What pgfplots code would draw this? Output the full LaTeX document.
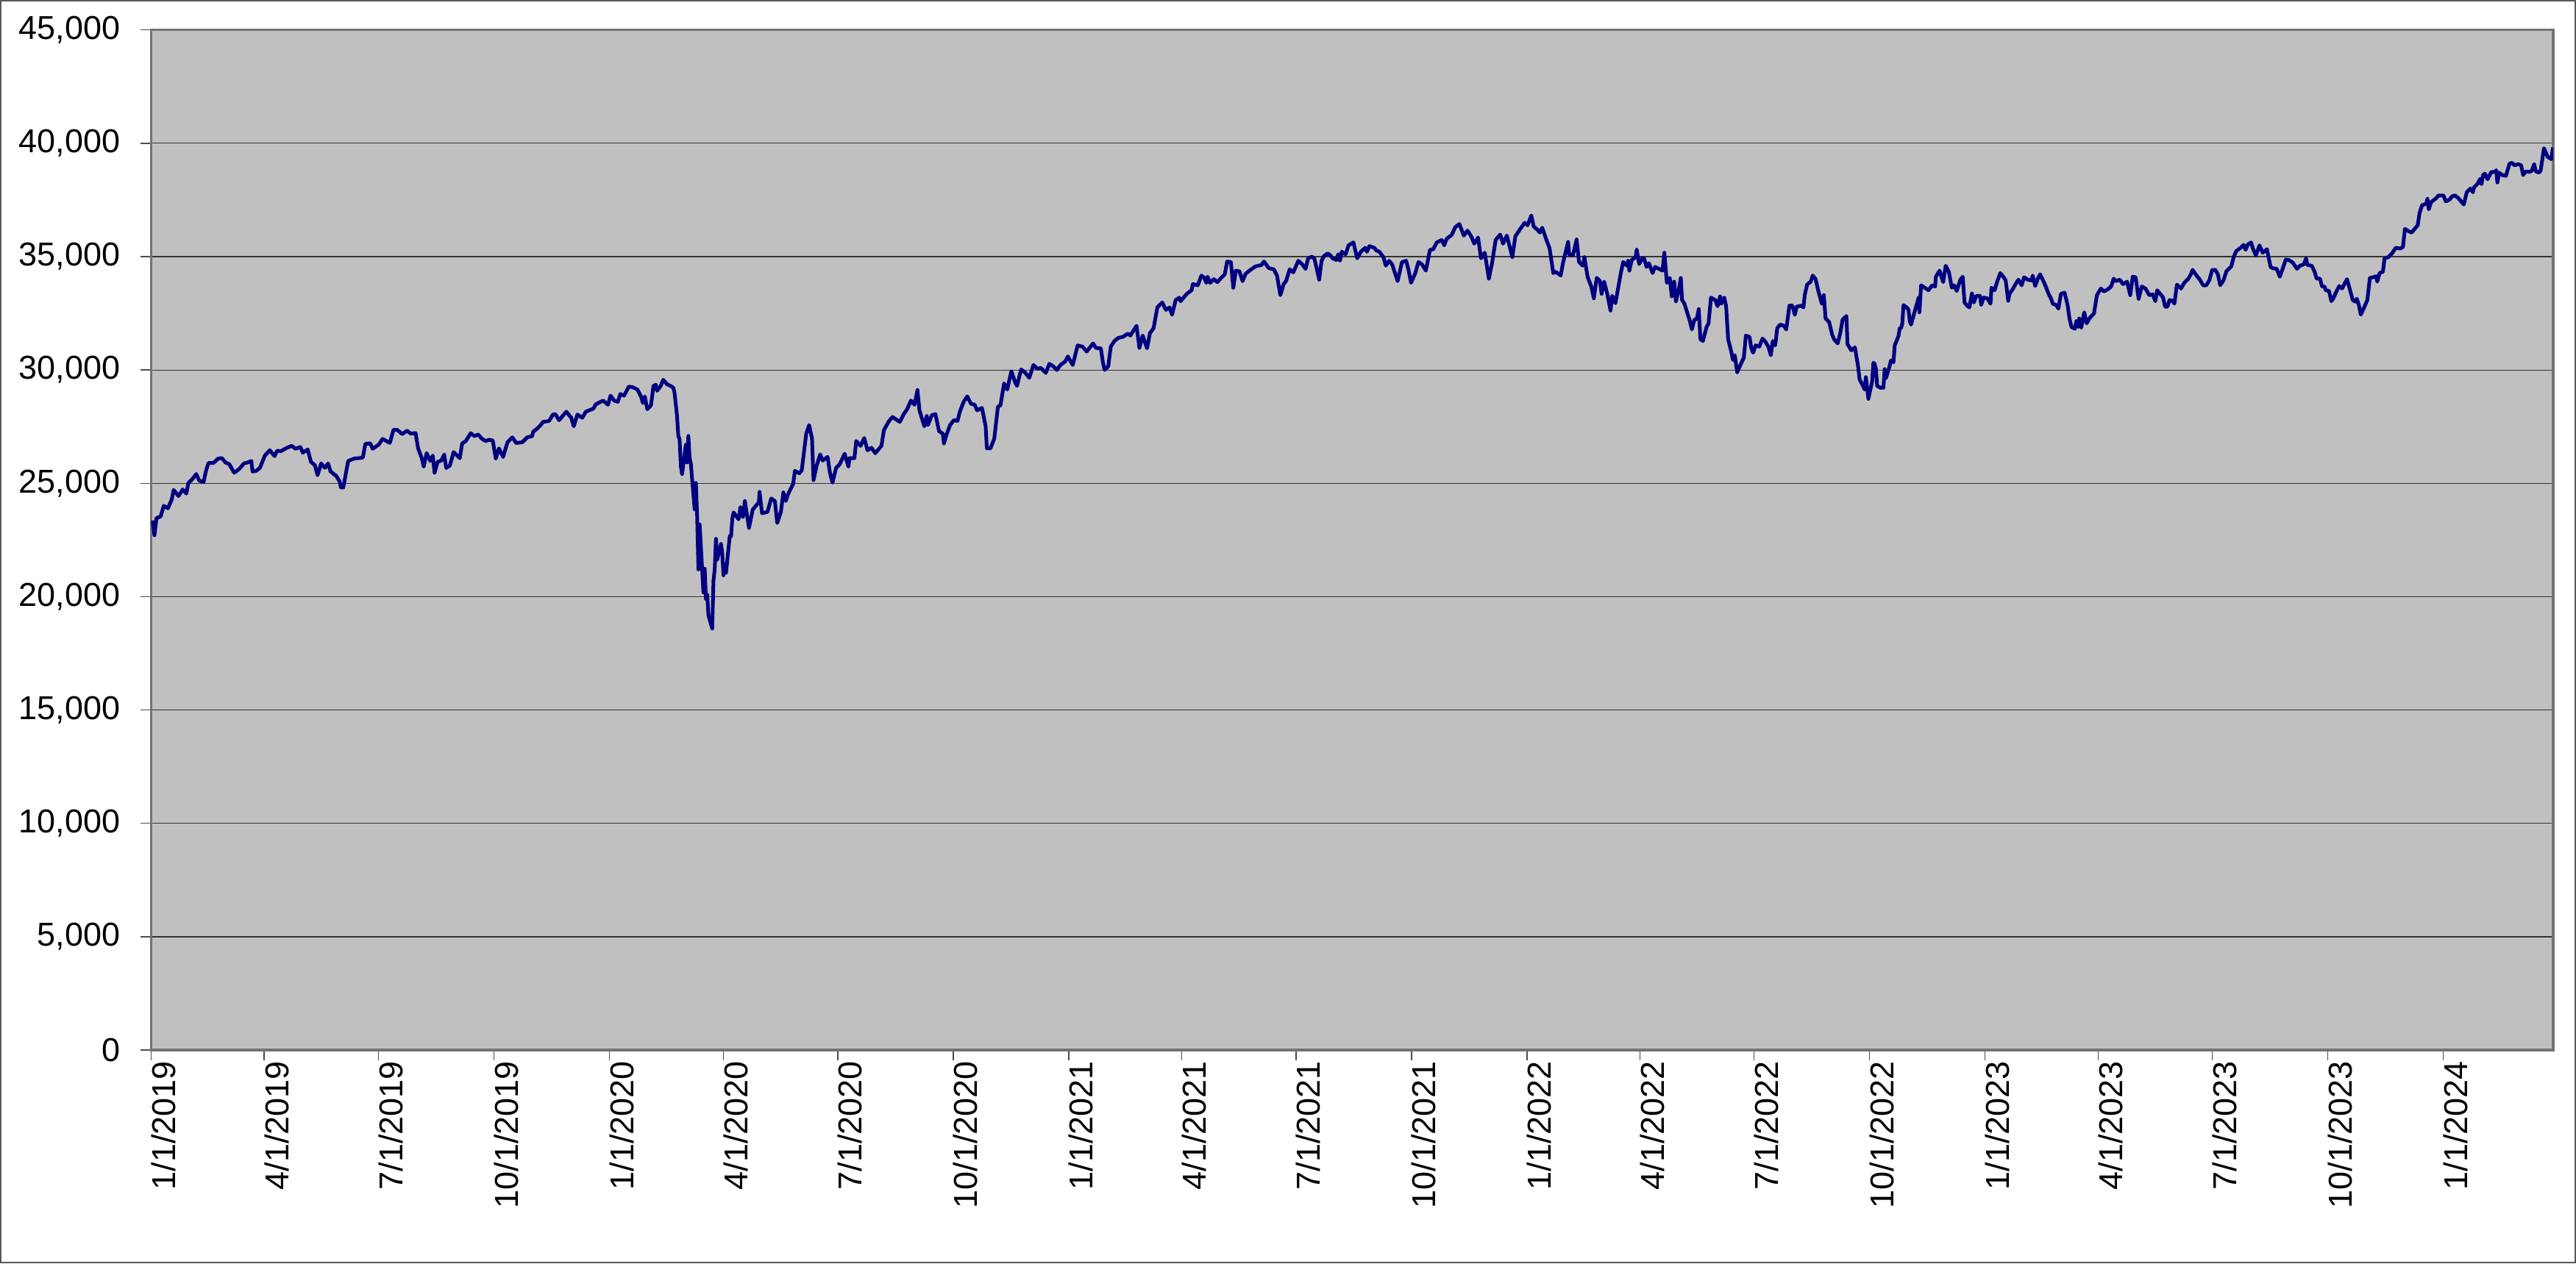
\documentclass[border=0pt]{standalone}
\usepackage{fontspec}
\setmainfont{Liberation Sans}
\usepackage{pgfplots}
\pgfplotsset{compat=1.18}
\definecolor{plotbg}{HTML}{C0C0C0}
\definecolor{navyline}{HTML}{000080}
\begin{document}
\begin{tikzpicture}
\begin{axis}[
  at={(0,0)}, anchor=south west,
  scale only axis, width=653.06pt, height=277.46pt,
  xmin=0, xmax=1913.4, ymin=0, ymax=45000,
  axis background/.style={fill=plotbg},
  axis line style={draw=black!55, line width=0.7pt},
  ymajorgrids, major grid style={draw=black!80, line width=0.25pt},
  ytick={0,5000,10000,15000,20000,25000,30000,35000,40000,45000},
  scaled y ticks=false,
  /pgf/number format/assume math mode=true,
  /pgf/number format/1000 sep={,},
  tick pos=left, tick align=outside, major tick length=2.8pt,
  tick style={draw=black!70, line width=0.3pt},
  tick label style={font=\fontsize{9}{10.8}\selectfont, text=black},
  yticklabel style={anchor=east, inner xsep=0pt, xshift=-5.4pt},
  xtick={0,90,181,273,365,456,547,639,731,821,912,1004,1096,1186,1277,1369,1461,1551,1642,1734,1826},
  xticklabels={1/1/2019,4/1/2019,7/1/2019,10/1/2019,1/1/2020,4/1/2020,7/1/2020,10/1/2020,1/1/2021,4/1/2021,7/1/2021,10/1/2021,1/1/2022,4/1/2022,7/1/2022,10/1/2022,1/1/2023,4/1/2023,7/1/2023,10/1/2023,1/1/2024},
  xticklabel style={rotate=90, anchor=east, inner xsep=0pt, yshift=-3.4pt},
]
\addplot[navyline, line width=1.0pt, mark=none, line join=round] table[x=d, y=v] {
d v
1.0 23357
2.7 22708
4.3 23465
7.6 23540
10.1 24005
13.4 23897
16.4 24276
18.0 24708
21.8 24438
25.2 24730
28.1 24546
29.7 25011
33.0 25195
36.0 25411
38.3 25119
41.8 25054
43.7 25540
45.7 25897
49.6 25897
53.5 26092
56.4 26113
59.3 25919
62.3 25843
66.2 25465
70.1 25627
74.0 25876
76.9 25919
79.9 25984
80.8 25519
83.8 25551
86.7 25681
90.6 26222
94.5 26459
98.4 26200
100.4 26438
103.3 26416
108.2 26567
112.1 26654
115.0 26524
118.9 26600
120.9 26351
124.8 26492
127.3 25951
130.6 25789
132.6 25357
135.5 25876
138.5 25681
141.0 25876
143.0 25519
147.3 25335
150.2 25086
151.2 24816
153.1 24816
157.0 25984
161.9 26092
165.8 26113
168.7 26135
170.7 26740
174.6 26762
176.5 26524
181.4 26708
184.4 26957
190.2 26784
193.1 27357
196.1 27357
200.0 27173
203.9 27324
206.8 27194
210.7 27216
212.7 26546
215.6 26113
217.2 25735
219.5 26330
222.5 25984
224.4 26222
225.8 25465
228.3 25951
231.2 26000
233.5 26270
235.1 25676
238.0 25784
241.0 26379
245.9 26108
247.8 26757
250.7 26865
254.6 27211
257.6 27081
260.5 27157
263.4 26973
266.4 26865
269.3 26919
272.2 26887
274.6 26087
277.1 26541
280.4 26162
283.9 26811
287.8 27027
290.8 26779
295.7 26811
299.6 27027
303.5 27081
304.4 27276
307.4 27406
310.3 27568
312.3 27708
317.1 27752
320.1 28033
322.0 28054
325.0 27784
330.8 28162
334.7 27892
336.7 27514
339.6 28033
343.5 27892
346.4 28162
352.3 28292
354.3 28487
360.1 28649
364.0 28465
366.0 28865
368.9 28649
371.8 28595
373.8 28941
376.7 28865
380.6 29265
383.6 29243
387.5 29135
390.4 28811
391.8 28541
393.3 28832
395.3 28270
398.2 28433
400.2 29297
402.1 29351
403.1 29081
406.0 29297
408.0 29568
410.9 29373
413.8 29297
416.0 29219
417.0 28992
419.0 27961
420.0 27081
421.0 26957
422.0 25766
423.0 25409
426.0 26703
427.0 25917
428.0 27091
429.0 26121
430.0 25865
433.0 23851
434.0 25018
435.0 23553
436.0 21200
437.0 23185
440.0 20189
441.0 21237
442.0 19899
443.0 20087
444.0 19174
447.0 18592
448.0 20704
449.0 21200
450.0 22552
451.0 21637
454.0 22327
455.0 21917
456.0 20943
457.0 21413
458.0 21053
461.0 22680
462.0 22654
463.0 23434
464.0 23719
468.0 23412
469.5 23952
471.5 23520
473.0 24222
476.3 23034
479.3 23844
484.2 24168
484.7 24622
486.7 23682
491.0 23736
494.0 24330
496.9 24222
498.8 23250
501.7 23736
503.7 24600
505.6 24222
507.6 24546
511.5 24978
512.9 25550
516.4 25442
518.3 25572
519.9 26274
521.9 27192
524.2 27570
526.5 26976
527.7 25140
530.0 25734
533.0 26274
535.0 26004
538.9 26166
540.8 25464
542.8 25032
545.7 25680
548.6 25842
552.5 26306
555.5 25734
556.4 26112
560.3 26112
561.7 26868
565.2 26652
568.1 26997
570.7 26458
573.9 26566
576.9 26328
581.8 26652
583.8 27354
587.7 27732
590.6 27926
596.5 27710
599.4 28034
602.3 28272
605.3 28650
608.2 28466
610.5 29114
612.1 28218
616.0 27516
617.9 27970
618.9 27570
621.9 28002
624.8 28056
627.7 27300
630.7 27192
631.6 26760
633.6 27138
636.5 27570
639.5 27786
642.4 27754
644.3 28164
647.3 28596
650.2 28834
653.1 28510
656.1 28466
658.0 28218
661.9 28326
664.8 27516
665.8 26544
668.7 26544
671.7 26976
674.6 28380
676.6 28434
679.5 29406
682.0 29136
685.3 29946
688.3 29460
689.8 29298
693.1 30022
696.1 29892
699.6 29654
702.9 30218
705.9 30055
708.8 30088
712.7 29871
715.6 30272
718.6 30163
721.5 30001
724.4 30218
728.3 30380
730.3 30596
734.2 30218
738.1 31083
742.0 31029
745.3 30813
750.4 31170
752.7 30975
756.6 30953
758.2 30347
759.6 30001
762.5 30163
764.5 31029
767.4 31278
770.3 31408
774.2 31462
778.1 31603
780.1 31516
785.0 31949
787.3 30975
789.9 31516
793.4 30953
795.7 31624
798.6 31840
801.6 32760
805.5 32977
808.4 32652
811.3 32760
813.3 32436
816.2 33085
819.1 33193
820.1 33031
825.0 33355
828.9 33518
829.9 33788
833.8 33734
836.7 34167
839.1 34059
840.6 33842
841.6 34113
843.6 33842
846.5 34005
849.4 33875
852.4 34059
855.3 34221
857.2 34784
860.2 34762
862.1 33626
864.1 34383
867.0 34351
869.5 33918
871.9 34243
875.8 34416
879.7 34567
884.6 34632
886.5 34784
890.4 34491
894.4 34437
896.9 34167
899.6 33301
902.2 33788
904.1 33918
907.0 34437
909.9 34308
913.9 34816
916.8 34675
919.7 34459
921.7 34924
924.6 35000
926.6 34924
928.5 34491
930.5 33983
932.4 34816
934.4 35032
937.3 35141
939.3 35065
941.2 34924
944.2 34849
945.7 35108
947.1 34816
948.5 35216
951.6 35108
953.9 35497
957.8 35627
960.8 34924
963.7 35216
967.2 35389
968.6 35216
970.5 35465
974.5 35389
975.8 35281
978.4 35216
981.7 34978
983.6 34600
986.2 34816
988.7 34654
993.0 33919
996.5 34762
999.8 34816
1001.8 34384
1003.7 33843
1007.1 34276
1009.6 34762
1012.5 34654
1015.5 34384
1018.8 35303
1021.3 35324
1024.2 35627
1028.2 35735
1030.1 35497
1032.1 35789
1036.0 35951
1038.9 36297
1042.2 36438
1045.7 35930
1048.7 36146
1051.6 35897
1054.0 35573
1057.1 35843
1059.4 34924
1062.4 35173
1065.7 34027
1068.2 34708
1071.1 35735
1074.7 35973
1077.0 35573
1080.0 35930
1084.4 34978
1086.8 35897
1090.7 36222
1094.2 36492
1096.5 36384
1099.5 36816
1101.4 36330
1104.3 36189
1106.3 36060
1108.2 36276
1111.2 35789
1114.1 35357
1117.0 34276
1119.0 34330
1122.9 34168
1124.9 34762
1128.8 35649
1129.7 35086
1132.7 35065
1135.6 35757
1137.5 34762
1140.5 34600
1141.8 34978
1144.4 34092
1147.3 33681
1149.3 33162
1151.6 34060
1154.2 33919
1155.5 33357
1157.5 33897
1160.0 33357
1162.6 32622
1163.9 33270
1166.5 32946
1170.8 34275
1172.7 34762
1175.6 34600
1176.6 34816
1177.6 34383
1179.5 34849
1182.5 34978
1183.5 35303
1185.4 34675
1187.9 34924
1189.3 34924
1191.3 34546
1193.2 34708
1196.1 34275
1198.1 34546
1202.0 34437
1204.0 34383
1205.5 35173
1207.5 33842
1209.8 34059
1211.4 33247
1213.3 33896
1214.7 33031
1216.7 33464
1218.6 34059
1219.6 33085
1221.5 32923
1223.9 32490
1225.8 32165
1227.4 31787
1229.4 32219
1231.3 32252
1232.9 32685
1234.2 31354
1236.2 31278
1239.1 31895
1240.7 32057
1242.6 33193
1246.0 33085
1247.9 32814
1249.9 33247
1250.8 32923
1253.2 33193
1254.7 32814
1256.3 31354
1258.3 30921
1260.2 30434
1261.6 30650
1263.5 29893
1266.5 30272
1268.8 30542
1270.4 31516
1273.3 31462
1274.7 30975
1276.2 30759
1278.2 31083
1281.1 31029
1283.7 31386
1286.0 31245
1288.3 31029
1290.3 30650
1291.9 31278
1293.8 31083
1295.4 31840
1297.7 32003
1300.7 31949
1302.6 31786
1305.1 32836
1307.5 32836
1309.4 32436
1311.0 32793
1314.3 32836
1316.3 32760
1317.3 33301
1319.2 33766
1322.1 33896
1323.7 34167
1326.0 34005
1328.0 33518
1330.9 32923
1332.5 33301
1333.9 32273
1336.8 32111
1339.1 31570
1340.7 31354
1343.6 31170
1345.6 31624
1347.5 32219
1350.5 32382
1351.4 31137
1354.4 30867
1357.3 30997
1359.8 30163
1361.0 29590
1364.0 29261
1365.0 29135
1366.0 29684
1367.0 29226
1368.0 28726
1371.0 29490
1372.0 30316
1373.0 30274
1374.0 30053
1375.0 29297
1378.0 29203
1379.0 29240
1380.0 29211
1381.0 30039
1382.0 29635
1385.0 30186
1386.0 30424
1387.0 30424
1388.0 30334
1389.0 31083
1392.0 31500
1393.0 31837
1394.0 31839
1395.0 32034
1396.0 32862
1399.0 32733
1400.0 32653
1401.0 32148
1402.0 32001
1406.1 32814
1408.1 33193
1408.7 32544
1410.0 33734
1413.0 33626
1415.9 33518
1418.8 33734
1421.2 33680
1421.8 34113
1424.7 34383
1427.6 33875
1429.6 34600
1432.1 34330
1434.5 33626
1436.4 33734
1438.4 33485
1441.3 33983
1443.2 34113
1444.6 32977
1447.1 32814
1448.5 32760
1450.5 33377
1452.0 32977
1454.0 33269
1456.9 33269
1457.9 32869
1459.9 33193
1462.8 33160
1465.3 32923
1466.1 33626
1468.6 33518
1470.6 33896
1473.1 34275
1475.5 34113
1477.4 33950
1479.4 33052
1480.4 33355
1483.3 33593
1486.2 33875
1487.6 33983
1490.1 33734
1492.1 34091
1495.0 33983
1497.9 33950
1498.9 34167
1500.9 33702
1502.8 34005
1504.8 34221
1506.7 34005
1508.7 33766
1511.6 33355
1513.6 33139
1514.9 32923
1517.5 32869
1519.4 32706
1521.4 33355
1524.3 33410
1526.7 32869
1528.2 32273
1529.8 31895
1532.5 31819
1533.7 32165
1535.1 31895
1536.0 32273
1537.6 31862
1540.0 32544
1541.9 32057
1544.8 32328
1547.7 32490
1550.1 33301
1553.2 33593
1555.6 33464
1558.5 33550
1561.4 33680
1563.4 34027
1565.3 33918
1568.3 33983
1570.8 33788
1574.1 33896
1576.6 33301
1578.6 34113
1580.9 34091
1583.3 33139
1585.8 33680
1588.8 33593
1591.7 33301
1594.6 33334
1596.6 33031
1598.1 33518
1600.5 33355
1602.8 33193
1604.4 32793
1606.3 32793
1607.9 33085
1610.2 33052
1611.8 32923
1613.8 33766
1617.1 33593
1619.6 33842
1622.9 34027
1624.9 34221
1626.3 34416
1629.4 34167
1632.1 33983
1634.7 33734
1637.2 33734
1639.6 33952
1641.9 34416
1644.4 34416
1646.4 34222
1648.3 33736
1650.9 33952
1653.2 34352
1657.1 34568
1659.1 35000
1661.1 35248
1664.6 35390
1666.9 35518
1668.5 35302
1670.4 35540
1672.8 35626
1674.7 35302
1676.7 35064
1679.6 35496
1682.1 35172
1685.5 35324
1688.4 34546
1690.0 34492
1693.3 34460
1695.8 34114
1697.2 34330
1700.5 34870
1703.0 34848
1706.0 34740
1709.5 34460
1711.8 34600
1714.8 34654
1716.7 34924
1717.7 34632
1721.2 34600
1723.5 34330
1725.1 34028
1727.8 34028
1729.4 33682
1731.4 33682
1732.3 33520
1734.9 33488
1736.8 33034
1738.2 33142
1740.7 33444
1743.1 33704
1745.4 33596
1749.3 34006
1751.9 33488
1753.8 33088
1755.8 33012
1757.1 33142
1758.7 32872
1760.3 32440
1763.0 32764
1765.5 33088
1767.5 34060
1770.4 34092
1772.4 34136
1773.4 33898
1775.3 34276
1777.9 34330
1779.2 34924
1782.2 34978
1785.1 35140
1788.1 35388
1792.0 35356
1793.9 35432
1795.4 36220
1798.7 36112
1800.7 36058
1803.6 36252
1805.6 36382
1807.1 36922
1809.1 37268
1812.4 37334
1813.4 37550
1814.4 37084
1816.3 37408
1820.2 37570
1822.2 37700
1826.1 37700
1828.0 37440
1831.0 37516
1832.9 37656
1835.3 37700
1837.8 37592
1842.3 37300
1844.7 37840
1847.6 38002
1849.6 37840
1850.5 38056
1853.4 38218
1855.4 38434
1856.4 38196
1857.9 38628
1859.3 38650
1861.3 38412
1864.2 38736
1867.1 38736
1868.1 38812
1869.1 38272
1870.4 38704
1873.0 38596
1875.9 38564
1878.8 39104
1880.8 39136
1882.7 39028
1885.7 39082
1888.0 39028
1889.6 38596
1891.5 38758
1894.5 38736
1896.4 38780
1898.4 39082
1899.7 38758
1902.3 38704
1903.6 38812
1906.2 39784
1909.1 39406
1912.0 39298
1913.4 39816
};
\end{axis}
\pgfresetboundingbox
\path[use as bounding box] (-41.08pt,-58pt) rectangle (659.32pt,285.6pt);
\draw[black!65, line width=0.35pt] (-40.9pt,-57.82pt) rectangle (659.14pt,285.42pt);
\end{tikzpicture}
\end{document}
